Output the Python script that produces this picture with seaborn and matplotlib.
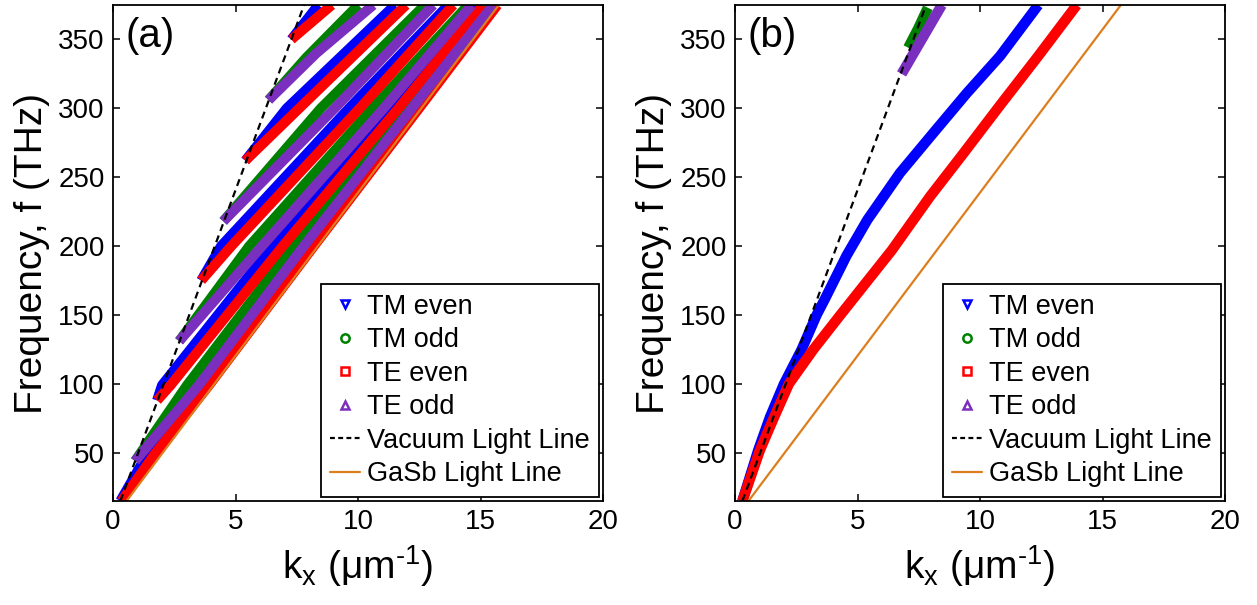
import matplotlib
matplotlib.use("Agg")
import matplotlib.pyplot as plt
from matplotlib.lines import Line2D
import pandas as pd
import seaborn as sns

# ---------------- light lines (k in 1/um, f in THz) ----------------
light_f = [15, 375]
vacuum_k = [0.3, 7.8]
gasb_k = [0.55, 15.75]

# ---------------- panel (a): many guided modes ----------------
# TM even (blue)
a_tm_even_0_k = [0.3, 1.4, 3.73, 8.05, 12.35, 15.62]
a_tm_even_0_f = [15, 49, 99, 200, 300, 375]
a_tm_even_2_k = [1.8, 2.0, 6.51, 11.35, 14.95]
a_tm_even_2_f = [88, 99, 200, 300, 375]
a_tm_even_4_k = [3.6, 4.41, 9.63, 13.69]
a_tm_even_4_f = [175, 200, 300, 375]
a_tm_even_6_k = [5.4, 7.09, 11.51]
a_tm_even_6_f = [262, 300, 375]
a_tm_even_8_k = [7.28, 8.38]
a_tm_even_8_f = [350, 375]
# TM odd (green)
a_tm_odd_1_k = [0.9, 3.02, 7.36, 11.95, 15.46]
a_tm_odd_1_f = [44, 99, 200, 300, 375]
a_tm_odd_3_k = [2.7, 5.56, 10.59, 14.5]
a_tm_odd_3_f = [131, 200, 300, 375]
a_tm_odd_5_k = [4.5, 8.48, 12.73]
a_tm_odd_5_f = [218, 300, 375]
a_tm_odd_7_k = [6.35, 7.9, 10.01]
a_tm_odd_7_f = [306, 337, 375]
# TE even (red)
a_te_even_0_k = [0.35, 1.7, 3.92, 8.2, 12.49, 15.69]
a_te_even_0_f = [15, 49, 99, 200, 300, 375]
a_te_even_2_k = [1.8, 2.35, 6.93, 11.65, 15.09]
a_te_even_2_f = [88, 99, 200, 300, 375]
a_te_even_4_k = [3.6, 4.83, 10.07, 13.89]
a_te_even_4_f = [175, 200, 300, 375]
a_te_even_6_k = [5.4, 7.6, 11.96]
a_te_even_6_f = [262, 300, 375]
a_te_even_8_k = [7.28, 8.93]
a_te_even_8_f = [350, 375]
# TE odd (purple)
a_te_odd_1_k = [0.9, 3.5, 7.79, 12.2, 15.52]
a_te_odd_1_f = [44, 99, 200, 300, 375]
a_te_odd_3_k = [2.7, 6.08, 11.05, 14.64]
a_te_odd_3_f = [131, 200, 300, 375]
a_te_odd_5_k = [4.5, 9.05, 13.07]
a_te_odd_5_f = [218, 300, 375]
a_te_odd_7_k = [6.35, 8.3, 10.62]
a_te_odd_7_f = [306, 340, 375]

# ---------------- panel (b): few guided modes ----------------
b_tm_even_k = [0.3, 0.95, 1.43, 2.0, 2.72, 3.33, 3.68, 4.55, 5.4, 6.73, 8.09, 9.46, 10.82, 12.38]
b_tm_even_f = [15, 52, 76, 100, 125, 150, 162, 193, 219, 253, 282, 311, 338, 375]
b_tm_odd_k = [7.07, 7.48, 7.87]
b_tm_odd_f = [344, 358, 373]
b_te_even_k = [0.3, 1.02, 1.6, 2.2, 3.2, 4.3, 6.4, 7.96, 9.31, 10.81, 12.38, 13.95]
b_te_even_f = [15, 52, 76, 100, 125, 150, 197, 236, 267, 302, 338, 375]
b_te_odd_k = [6.8, 7.62, 8.44]
b_te_odd_f = [325, 350, 375]

mode_names = ["TM even", "TM odd", "TE even", "TE odd"]
mode_colors = ["#0000FF", "#008000", "#FF0000", "#7B2FBE"]
mode_markers = ["v", "o", "s", "^"]
legend_labels = ["TM even", "TM odd", "TE even", "TE odd",
                 "Vacuum Light Line", "GaSb Light Line"]
xticks = [0, 5, 10, 15, 20]
yticks = [50, 100, 150, 200, 250, 300, 350]

a_curves = [
    ("TM even", a_tm_even_0_k, a_tm_even_0_f), ("TM even", a_tm_even_2_k, a_tm_even_2_f),
    ("TM even", a_tm_even_4_k, a_tm_even_4_f), ("TM even", a_tm_even_6_k, a_tm_even_6_f),
    ("TM even", a_tm_even_8_k, a_tm_even_8_f),
    ("TM odd", a_tm_odd_1_k, a_tm_odd_1_f), ("TM odd", a_tm_odd_3_k, a_tm_odd_3_f),
    ("TM odd", a_tm_odd_5_k, a_tm_odd_5_f), ("TM odd", a_tm_odd_7_k, a_tm_odd_7_f),
    ("TE even", a_te_even_0_k, a_te_even_0_f), ("TE even", a_te_even_2_k, a_te_even_2_f),
    ("TE even", a_te_even_4_k, a_te_even_4_f), ("TE even", a_te_even_6_k, a_te_even_6_f),
    ("TE even", a_te_even_8_k, a_te_even_8_f),
    ("TE odd", a_te_odd_1_k, a_te_odd_1_f), ("TE odd", a_te_odd_3_k, a_te_odd_3_f),
    ("TE odd", a_te_odd_5_k, a_te_odd_5_f), ("TE odd", a_te_odd_7_k, a_te_odd_7_f),
]
b_curves = [
    ("TM even", b_tm_even_k, b_tm_even_f), ("TM odd", b_tm_odd_k, b_tm_odd_f),
    ("TE even", b_te_even_k, b_te_even_f), ("TE odd", b_te_odd_k, b_te_odd_f),
]


def to_frame(curves):
    rows = []
    for i, (mode, ks, fs) in enumerate(curves):
        for k, f in zip(ks, fs):
            rows.append({"mode": mode, "curve": i, "k": k, "f": f})
    return pd.DataFrame(rows)


sns.set_style("ticks")
plt.rcParams["font.family"] = ["Liberation Sans", "DejaVu Sans"]
plt.rcParams["mathtext.default"] = "regular"
for key in ["text.color", "axes.labelcolor", "xtick.color", "ytick.color", "axes.edgecolor"]:
    plt.rcParams[key] = "black"

fig = plt.figure(figsize=(12.57, 6.05), dpi=100)
ax_a = fig.add_axes([113 / 1257, 104 / 605, 490 / 1257, 496 / 605])
ax_b = fig.add_axes([735 / 1257, 104 / 605, 490 / 1257, 496 / 605])

palette = dict(zip(mode_names, mode_colors))

for ax, curves, lw, tag in [(ax_a, a_curves, 7.2, "(a)"), (ax_b, b_curves, 7.5, "(b)")]:
    df = to_frame(curves)
    sns.lineplot(data=df, x="k", y="f", hue="mode", hue_order=mode_names,
                 units="curve", estimator=None, sort=False, palette=palette,
                 lw=lw, legend=False, ax=ax, solid_capstyle="butt",
                 solid_joinstyle="round")
    sns.lineplot(x=vacuum_k, y=light_f, color="black", lw=1.6, ax=ax,
                 linestyle=(0, (3.2, 2.2)), legend=False)
    sns.lineplot(x=gasb_k, y=light_f, color="#DD7E1E", lw=1.6, ax=ax, legend=False)

    ax.set_xlim(0, 20)
    ax.set_ylim(15, 375)
    ax.set_xticks(xticks)
    ax.set_yticks(yticks)
    ax.tick_params(direction="in", top=True, right=True, length=5, width=1.1,
                   labelsize=20, pad=6, colors="black")
    for s in ax.spines.values():
        s.set_linewidth(1.3)
        s.set_color("black")
    ax.set_xlabel("k$_x$ (\u03bcm$^{\u2010 1}$)", fontsize=28, labelpad=6)
    ax.set_ylabel("Frequency, f (THz)", fontsize=28, labelpad=6)
    ax.text(0.025, 0.975, tag, transform=ax.transAxes, ha="left", va="top",
            fontsize=29)

    handles = [Line2D([], [], ls="none", marker=m, color=c, mfc="none", ms=6, mew=1.8)
               for m, c in zip(mode_markers, mode_colors)]
    handles.append(Line2D([], [], color="black", lw=1.6, linestyle=(0, (2.2, 1.5))))
    handles.append(Line2D([], [], color="#DD7E1E", lw=1.6))
    leg = ax.legend(handles=handles, labels=legend_labels, loc="lower right",
                    fontsize=19.5, frameon=True, fancybox=False, framealpha=1,
                    edgecolor="black", borderaxespad=0.15, handlelength=1.1,
                    handletextpad=0.25, labelspacing=0.28, borderpad=0.35)
    leg.get_frame().set_linewidth(1.3)

fig.savefig("out.png", dpi=100)
